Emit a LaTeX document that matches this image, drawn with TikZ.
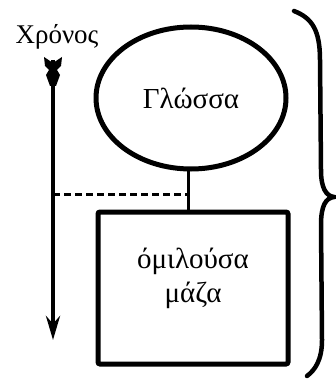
\documentclass[tikz,border=0pt]{standalone}
\usepackage{fontspec}
\setmainfont{Liberation Serif}
\usetikzlibrary{arrows.meta,shapes.geometric}
\tikzset{
  thickline/.style={line width=5pt},
  txt/.style={font=\fontsize{29}{34}\selectfont},
}
\begin{document}
\begin{tikzpicture}[x=1pt,y=-1pt]
\useasboundingbox (0,0) rectangle (336,379);
\node[txt, font=\fontsize{27}{32}\selectfont] (chr) at (57,37) {Χρόνος};
\node[ellipse, draw, thickline, minimum width=190pt, minimum height=142pt, inner sep=0pt, txt] (g) at (191,98) {Γλώσσα};
\node[draw, thickline, minimum width=190pt, minimum height=152pt, inner sep=0pt, rounded corners=2pt] (m) at (193,288) {};
\node[txt, align=center] (mt) at (193,278) {όμιλούσα\\[0pt]μάζα};
\coordinate (ta) at (53,60);
\coordinate (tb) at (53,340);
\draw[line width=4pt, -{Stealth[length=24pt,width=14pt]}] (ta) -- (tb);
\fill (44,57)--(53,63)--(62,57)--(61,66)--(57,70)--(60,75)--(56,86)--(50,86)--(46,75)--(49,70)--(45,66)--cycle;
\coordinate (st) at (188,170);
\coordinate (sb) at (188,211);
\draw[line width=3pt] (st) -- (sb);
\coordinate (dl) at (53,194);
\coordinate (dr) at (188,194);
\draw[line width=3pt, dash pattern=on 7pt off 4pt] (dl) -- (dr);
\draw[line width=4.5pt, line cap=round] (294,11) .. controls (312,18) and (320,30) .. (320,60)
  -- (321,170) .. controls (321,188) and (326,196) .. (334,197)
  .. controls (326,198) and (321,205) .. (321,225)
  -- (322,340) .. controls (322,360) and (315,370) .. (307,376);
\end{tikzpicture}
\end{document}
